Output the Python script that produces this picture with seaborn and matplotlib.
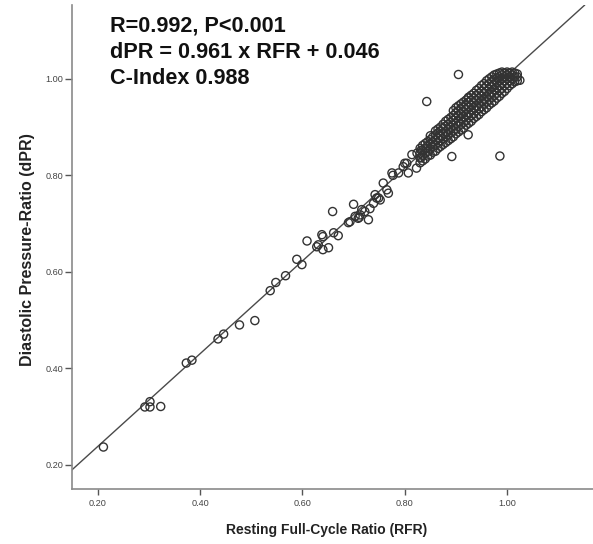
import numpy as np
import pandas as pd
import matplotlib
matplotlib.use("Agg")
import matplotlib.pyplot as plt
import seaborn as sns
from matplotlib import font_manager

# ---------------- data ----------------
# sparse points (RFR, dPR)
rfr_sparse = [0.211, 0.292, 0.302, 0.302, 0.323, 0.373, 0.384, 0.435, 0.446, 0.477,
              0.507, 0.537, 0.548, 0.567, 0.589, 0.599, 0.609, 0.628, 0.631, 0.638,
              0.640, 0.640, 0.651, 0.659, 0.661, 0.670, 0.690, 0.693, 0.700, 0.703,
              0.709, 0.711, 0.713, 0.716, 0.722, 0.729, 0.732, 0.739, 0.742, 0.745,
              0.749, 0.752, 0.758, 0.765, 0.768, 0.775, 0.777, 0.788, 0.797, 0.800,
              0.804, 0.807, 0.814, 0.823, 0.824, 0.832, 0.832, 0.843]
dpr_sparse = [0.237, 0.320, 0.320, 0.331, 0.321, 0.411, 0.417, 0.461, 0.471, 0.490,
              0.499, 0.561, 0.578, 0.592, 0.626, 0.615, 0.664, 0.652, 0.656, 0.677,
              0.673, 0.646, 0.650, 0.725, 0.681, 0.675, 0.702, 0.704, 0.740, 0.715,
              0.711, 0.713, 0.718, 0.729, 0.725, 0.708, 0.731, 0.742, 0.760, 0.753,
              0.753, 0.749, 0.784, 0.770, 0.763, 0.805, 0.800, 0.805, 0.818, 0.825,
              0.825, 0.805, 0.843, 0.815, 0.846, 0.852, 0.837, 0.856]

# outliers off the band
rfr_outlier = [0.843, 0.905, 0.924, 0.924, 0.892, 0.986]
dpr_outlier = [0.953, 1.009, 0.960, 0.884, 0.839, 0.840]

# dense band (RFR value, list of dPR values at that RFR)
band_rfr = [0.830, 0.835, 0.840, 0.845, 0.850, 0.855, 0.860, 0.865, 0.870, 0.875,
            0.880, 0.885, 0.890, 0.895, 0.900, 0.905, 0.910, 0.915, 0.920, 0.925,
            0.930, 0.935, 0.940, 0.945, 0.950, 0.955, 0.960, 0.965, 0.970, 0.975,
            0.980, 0.985, 0.990, 0.995, 1.000, 1.005, 1.010, 1.015, 1.020, 1.025]
band_dpr = [
    [0.826, 0.836, 0.846, 0.856],
    [0.830, 0.842, 0.852, 0.862],
    [0.834, 0.846, 0.856, 0.866],
    [0.840, 0.850, 0.862, 0.870],
    [0.842, 0.854, 0.864, 0.874, 0.882],
    [0.848, 0.860, 0.870, 0.880],
    [0.850, 0.862, 0.874, 0.884, 0.892],
    [0.856, 0.868, 0.878, 0.888, 0.896],
    [0.860, 0.872, 0.882, 0.892, 0.900],
    [0.864, 0.876, 0.888, 0.898, 0.906],
    [0.868, 0.880, 0.890, 0.902, 0.912],
    [0.872, 0.884, 0.896, 0.906, 0.916],
    [0.876, 0.888, 0.900, 0.910, 0.920],
    [0.880, 0.892, 0.904, 0.914, 0.924, 0.934],
    [0.886, 0.896, 0.908, 0.920, 0.930, 0.940],
    [0.890, 0.902, 0.912, 0.924, 0.934, 0.944],
    [0.894, 0.906, 0.918, 0.928, 0.938, 0.948],
    [0.898, 0.910, 0.922, 0.932, 0.942, 0.952],
    [0.904, 0.914, 0.926, 0.936, 0.946, 0.956],
    [0.908, 0.920, 0.930, 0.942, 0.952, 0.962],
    [0.912, 0.924, 0.936, 0.946, 0.956, 0.966],
    [0.918, 0.928, 0.940, 0.950, 0.960, 0.970],
    [0.922, 0.934, 0.944, 0.956, 0.966, 0.976],
    [0.926, 0.938, 0.950, 0.960, 0.970, 0.980],
    [0.932, 0.942, 0.954, 0.964, 0.974, 0.986],
    [0.936, 0.948, 0.958, 0.970, 0.980, 0.990],
    [0.940, 0.952, 0.964, 0.974, 0.986, 0.996],
    [0.946, 0.956, 0.968, 0.978, 0.990, 1.000],
    [0.950, 0.962, 0.972, 0.984, 0.994, 1.004],
    [0.954, 0.966, 0.978, 0.988, 0.998, 1.008],
    [0.960, 0.970, 0.982, 0.992, 1.002, 1.010],
    [0.964, 0.976, 0.986, 0.996, 1.004, 1.012],
    [0.970, 0.980, 0.990, 1.000, 1.008, 1.014],
    [0.974, 0.986, 0.996, 1.004, 1.012],
    [0.980, 0.990, 1.000, 1.008, 1.014],
    [0.986, 0.996, 1.004, 1.012],
    [0.990, 1.000, 1.008, 1.014],
    [0.994, 1.004, 1.012],
    [0.996, 1.004, 1.010],
    [0.997],
]

fit_slope = 0.961
fit_intercept = 0.046

annotation_lines = ["R=0.992, P<0.001", "dPR = 0.961 x RFR + 0.046", "C-Index 0.988"]
tick_values = [0.20, 0.40, 0.60, 0.80, 1.00]
tick_labels = ["0.20", "0.40", "0.60", "0.80", "1.00"]
x_label = "Resting Full-Cycle Ratio (RFR)"
y_label = "Diastolic Pressure-Ratio (dPR)"

# ---------------- build table ----------------
rows_x = list(rfr_sparse) + list(rfr_outlier)
rows_y = list(dpr_sparse) + list(dpr_outlier)
for xv, ys in zip(band_rfr, band_dpr):
    for yv in ys:
        rows_x.append(xv)
        rows_y.append(yv)
df = pd.DataFrame({"RFR": rows_x, "dPR": rows_y})

# ---------------- style ----------------
sns.set_theme(style="white")
plt.rcParams["font.family"] = ["Liberation Sans", "DejaVu Sans"]

names = {f.name for f in font_manager.fontManager.ttflist}
if "Liberation Sans Narrow" in names:
    tick_family, tick_size = "Liberation Sans Narrow", 7.7
else:
    tick_family, tick_size = "Liberation Sans", 6.6

W, H = 593, 544
fig = plt.figure(figsize=(W / 100, H / 100), dpi=100)
ax = fig.add_axes([71.7 / W, (H - 489) / H, (W - 71.7) / W, (489 - 5) / H])

sns.scatterplot(data=df, x="RFR", y="dPR", ax=ax, marker="o", s=34,
                color="#333333", linewidth=1.0, legend=False, zorder=3)
pts = ax.collections[-1]
pts.set_facecolor("none")
pts.set_edgecolor("#333333")
pts.set_linewidth(1.0)

ax.axline((0, fit_intercept), slope=fit_slope, color="#4a4a4a", lw=1.0, zorder=2)

ax.set_xlim(0.149, 1.168)
ax.set_ylim(0.150, 1.153)
ax.set_xticks(tick_values)
ax.set_xticklabels(tick_labels)
ax.set_yticks(tick_values)
ax.set_yticklabels(tick_labels)

for lab in ax.get_xticklabels() + ax.get_yticklabels():
    lab.set_fontfamily(tick_family)
    lab.set_fontsize(tick_size)
    lab.set_color("#444444")

ax.tick_params(axis="x", direction="out", length=4.5, width=1.0, color="#555555", pad=3,
               bottom=True)
ax.tick_params(axis="y", direction="out", length=5, width=1.0, color="#555555", pad=1,
               left=True)

for side in ["top", "right"]:
    ax.spines[side].set_visible(False)
for side in ["left", "bottom"]:
    ax.spines[side].set_color("#8a8a8a")
    ax.spines[side].set_linewidth(1.2)

ax.set_xlabel("")
ax.set_ylabel("")
fig.text(327 / W, 1 - 530 / H, x_label, ha="center", va="center",
         fontsize=10, fontweight="bold", color="#222222")
fig.text(28 / W, 1 - 250 / H, y_label, ha="center", va="center", rotation=90,
         fontsize=11.5, fontweight="bold", color="#222222")

for line, py in zip(annotation_lines, [26, 52, 79]):
    fig.text(110 / W, 1 - py / H, line, ha="left", va="center",
             fontsize=15.6, fontweight="bold", color="#111111")

fig.savefig("out.png", dpi=100, facecolor="white")
